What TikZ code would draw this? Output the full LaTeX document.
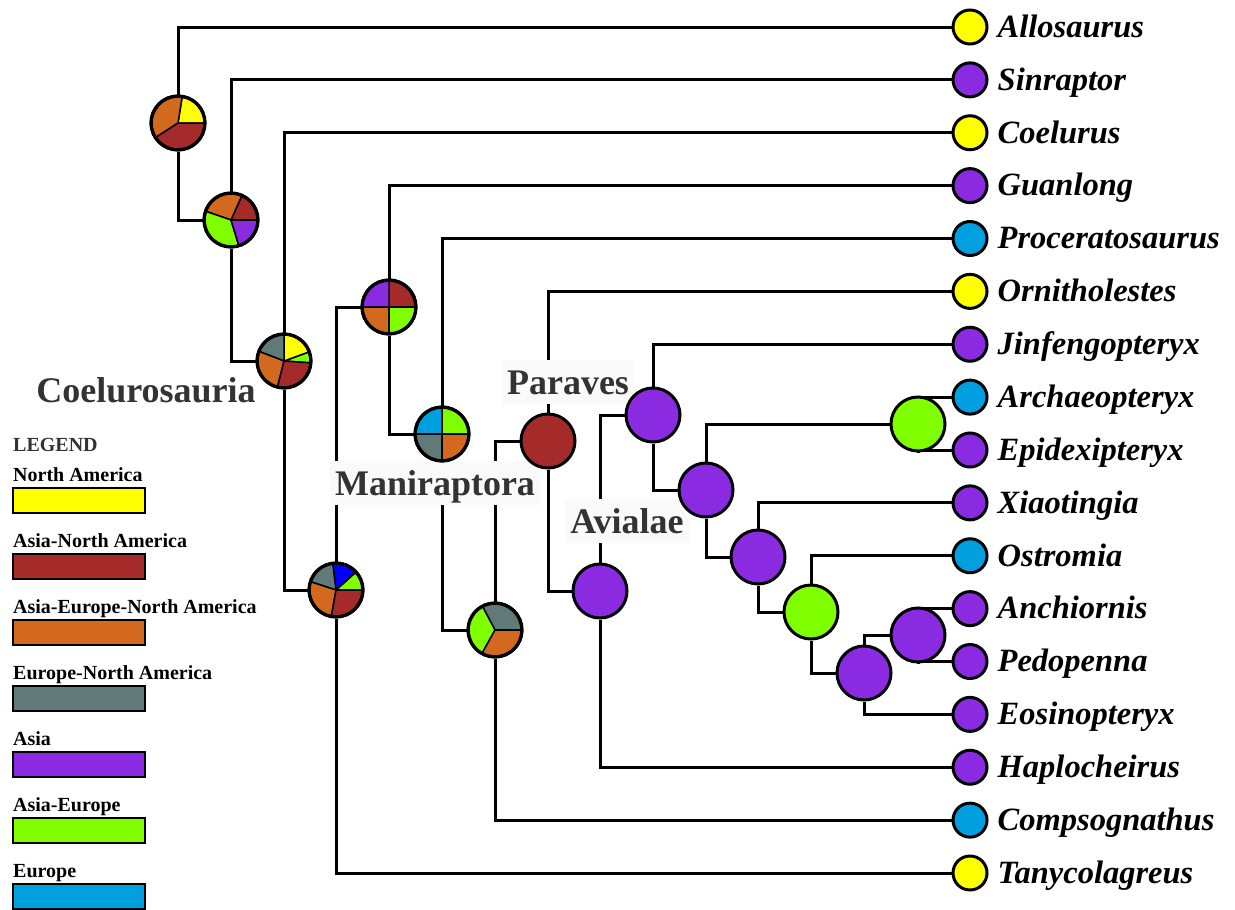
\documentclass[tikz,border=0pt]{standalone}
\usepackage{fontspec}
\setmainfont{Liberation Serif}
\usetikzlibrary{positioning}
\definecolor{namer}{HTML}{FFFF00}
\definecolor{asnam}{HTML}{A52A2A}
\definecolor{aseunam}{HTML}{D2691E}
\definecolor{eunam}{HTML}{5F7A78}
\definecolor{asia}{HTML}{8A2BE2}
\definecolor{aseu}{HTML}{7FFF00}
\definecolor{europe}{HTML}{00A0E0}
\definecolor{cladegray}{HTML}{333333}
\definecolor{boxbg}{HTML}{FAFAFA}
\pgfdeclarelayer{bg}
\pgfdeclarelayer{mid}
\pgfsetlayers{bg,mid,main}
% pie slices over an ancestor node: start/end/colour
\newcommand{\pieslices}[2]{%
  \foreach \a/\b/\col in {#2}
    \filldraw[fill=\col, draw=black, line width=1.5pt]
      (#1.center) -- ++(\a:26pt) arc[start angle=\a, end angle=\b, radius=26pt] -- cycle;
  \draw[line width=3pt] (#1.center) circle[radius=27pt];
}
\begin{document}
\begin{tikzpicture}[x=1pt, y=1pt,
  branch/.style={line width=3pt},
  tip/.style={circle, draw, line width=3pt, minimum size=34pt, inner sep=0pt},
  tiplabel/.style={inner sep=0pt, text height=25pt, text depth=4.5pt,
    font=\fontsize{32.5}{36}\selectfont\bfseries\itshape},
  anc/.style={circle, draw, line width=3pt, minimum size=54pt, inner sep=0pt},
  clade/.style={font=\fontsize{36}{40}\selectfont\bfseries, text=cladegray, fill=boxbg,
    inner xsep=5pt, inner ysep=5pt, text height=29pt, text depth=5pt},
  legtext/.style={anchor=west, inner sep=0pt, text height=14pt, text depth=1pt,
    font=\fontsize{20}{24}\selectfont\bfseries},
  legbox/.style={draw, line width=2pt, minimum width=132pt, minimum height=25pt,
    inner sep=0pt, anchor=north west}]
\useasboundingbox (0,0) rectangle (1235,-910);

% taxa
\foreach \n/\lbl/\col [count=\i from 0] in {allo/Allosaurus/namer, sinr/Sinraptor/asia,
    coel/Coelurus/namer, guan/Guanlong/asia, proc/Proceratosaurus/europe,
    orni/Ornitholestes/namer, jinf/Jinfengopteryx/asia, arch/Archaeopteryx/europe,
    epid/Epidexipteryx/asia, xiao/Xiaotingia/asia, ostr/Ostromia/europe,
    anch/Anchiornis/asia, pedo/Pedopenna/asia, eosi/Eosinopteryx/asia,
    hapl/Haplocheirus/asia, comp/Compsognathus/europe, tany/Tanycolagreus/namer}
{
  \node[tip, fill=\col] (\n) at (970,{-27-52.875*\i}) {};
  \node[tiplabel, right=9pt of \n] (\n-l) {\lbl};
}

% ancestral nodes
\foreach \n/\x/\y/\col in {n1/178/123/white, n2/231/220/white, n3/284/361/white,
    n4/336/590/white, n5/389/307/white, n6/442/434/white, n7/495/630/white,
    par/548/441/asnam, avi/600/591/asia, n10/653/415/asia, n11/706/490/asia,
    n12/758/557/asia, n13/811/612/aseu, n14/864/673/asia, narch/918/424/aseu,
    nanch/918/635/asia}
  \node[anc, fill=\col] (\n) at (\x,-\y) {};

% branches
\begin{pgfonlayer}{bg}
\foreach \p/\a/\b in {n1/allo/n2, n2/sinr/n3, n3/coel/n4, n4/n5/tany, n5/guan/n6,
    n6/proc/n7, n7/par/comp, par/orni/avi, avi/n10/hapl, n10/jinf/n11, n11/narch/n12,
    narch/arch/epid, n12/xiao/n13, n13/ostr/n14, n14/nanch/eosi, nanch/anch/pedo}
{
  \draw[branch] (\p) |- (\a);
  \draw[branch] (\p) |- (\b);
}
\end{pgfonlayer}

\pieslices{n1}{0/81/namer, 81/213/aseunam, 213/360/asnam}
\pieslices{n2}{0/66/asnam, 66/161/aseunam, 161/287/aseu, 287/360/asia}
\pieslices{n3}{-4/20/aseu, 20/90/namer, 90/159/eunam, 159/256/aseunam, 256/356/asnam}
\pieslices{n4}{0/42/aseu, 42/97/blue, 97/162/eunam, 162/260/aseunam, 260/360/asnam}
\pieslices{n5}{0/90/asnam, 90/180/asia, 180/270/aseunam, 270/360/aseu}
\pieslices{n6}{0/90/aseu, 90/180/europe, 180/270/eunam, 270/360/aseunam}
\pieslices{n7}{0/118/eunam, 118/241/aseu, 241/360/aseunam}

% clade names
\begin{pgfonlayer}{mid}
\node[clade, fill=none] (coelu) at (146,-390) {Coelurosauria};
\node[clade] (mani) at (435,-483) {Maniraptora};
\node[clade] (parav) at (568,-382) {Paraves};
\node[clade] (avial) at (627,-521) {Avialae};
\end{pgfonlayer}

% legend
\node[legtext, text=cladegray] (legend) at (13,-445) {LEGEND};
\foreach \lbl/\col [count=\i from 0] in {North America/namer, Asia-North America/asnam,
    Asia-Europe-North America/aseunam, Europe-North America/eunam, Asia/asia,
    Asia-Europe/aseu, Europe/europe}
{
  \node[legtext] (lt\i) at (13,{-475-66*\i}) {\lbl};
  \node[legbox, fill=\col] (lb\i) at (12,{-487-66*\i}) {};
}
\end{tikzpicture}
\end{document}
